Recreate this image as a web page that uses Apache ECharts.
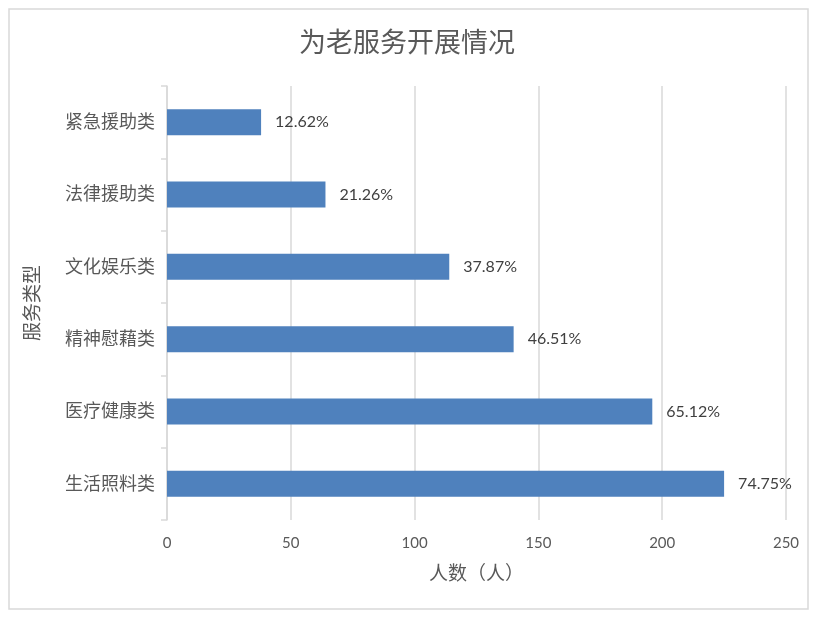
<!DOCTYPE html>
<html>
<head>
<meta charset="utf-8">
<script src="https://cdn.jsdelivr.net/npm/echarts@6/dist/echarts.min.js"></script>
<style>
  html, body { margin: 0; padding: 0; background: #fff; }
  #main { width: 814px; height: 621px; }
</style>
</head>
<body>
<div id="main"></div>
<script>
// 数据（从上到下的顺序，绘制时反转）
const categories = ['紧急援助类', '法律援助类', '文化娱乐类', '精神慰藉类', '医疗健康类', '生活照料类'];
const counts = [38, 64, 114, 140, 196, 225];
const percentLabels = ['12.62%', '21.26%', '37.87%', '46.51%', '65.12%', '74.75%'];
const xTicks = [0, 50, 100, 150, 200, 250];

const cjk = 'Lato, "Noto Sans CJK SC", sans-serif';
const chart = echarts.init(document.getElementById('main'));

const option = {
  backgroundColor: '#fff',
  animation: false,
  graphic: [{
    type: 'rect',
    shape: { x: 9, y: 9, width: 799, height: 600 },
    style: { fill: 'none', stroke: '#d9d9d9', lineWidth: 1.5 },
    silent: true
  }],
  title: {
    text: '为老服务开展情况',
    left: 'center',
    top: 25,
    textStyle: { color: '#595959', fontSize: 27, fontWeight: 'normal', fontFamily: cjk }
  },
  grid: { left: 167, right: 28, top: 86, bottom: 101, containLabel: false },
  xAxis: {
    type: 'value',
    min: xTicks[0],
    max: xTicks[xTicks.length - 1],
    interval: 50,
    name: '人数（人）',
    nameLocation: 'middle',
    nameGap: 44,
    nameTextStyle: { color: '#595959', fontSize: 19, fontFamily: cjk },
    axisLine: { show: false },
    axisTick: { show: false },
    axisLabel: { color: '#595959', fontSize: 15, margin: 16, fontFamily: cjk },
    splitLine: { lineStyle: { color: '#d9d9d9', width: 1.5 } }
  },
  yAxis: {
    type: 'category',
    data: categories.slice().reverse(),
    name: '服务类型',
    nameLocation: 'middle',
    nameRotate: 90,
    nameGap: 125,
    nameTextStyle: { color: '#595959', fontSize: 19, fontFamily: cjk },
    axisLine: { show: true, lineStyle: { color: '#d9d9d9', width: 1.5 } },
    axisTick: { show: true, length: 6, lineStyle: { color: '#d9d9d9', width: 1.5 } },
    axisLabel: { color: '#595959', fontSize: 18, margin: 12, fontFamily: cjk }
  },
  series: [{
    type: 'bar',
    data: counts.slice().reverse(),
    barWidth: 26,
    itemStyle: { color: '#4f81bd' },
    label: {
      show: true,
      position: 'right',
      distance: 14,
      color: '#404040',
      fontSize: 16,
      fontFamily: cjk,
      formatter: function (p) {
        return percentLabels[categories.length - 1 - p.dataIndex];
      }
    }
  }]
};

chart.setOption(option);
</script>
</body>
</html>
